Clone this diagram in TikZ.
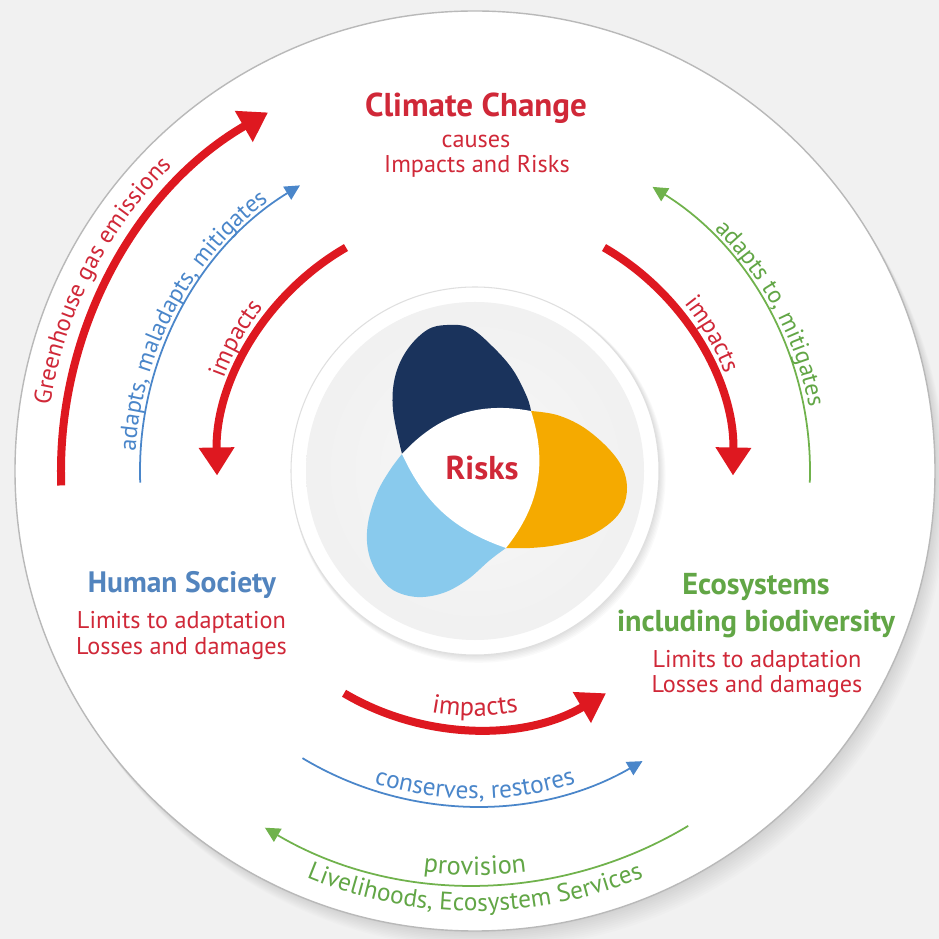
\documentclass[tikz,border=0pt]{standalone}
\usepackage{fontspec}
\setmainfont{PT Sans}
\usetikzlibrary{arrows.meta,decorations.text}

\definecolor{bgrey}{RGB}{241,241,241}
\definecolor{arrred}{RGB}{222,24,32}
\definecolor{txtred}{RGB}{208,40,56}
\definecolor{socblue}{RGB}{82,132,190}
\definecolor{arrblue}{RGB}{74,134,202}
\definecolor{ecogreen}{RGB}{98,166,70}
\definecolor{arrgreen}{RGB}{112,178,76}
\definecolor{petalnavy}{RGB}{26,51,92}
\definecolor{petalorange}{RGB}{245,170,0}
\definecolor{petalsky}{RGB}{137,202,237}

\pgfdeclareradialshading{dishshade}{\pgfpoint{0bp}{0bp}}{%
  rgb(0bp)=(0.97,0.97,0.97); rgb(28bp)=(0.94,0.94,0.94); rgb(44bp)=(0.89,0.89,0.89); rgb(50bp)=(0.84,0.84,0.84)}

\newcommand\arcfont[1]{\fontsize{#1}{#1}\selectfont}

\tikzset{
  bigarrow/.style={draw=arrred, line width=0.08cm, -{Triangle[length=0.28cm,width=0.34cm]}},
  thinarrow/.style={line width=0.5pt, -{Triangle[length=0.15cm,width=0.15cm]}},
  arclabel/.style={decorate, decoration={text along path, text align=center, text={#1}}},
  headred/.style={font=\bfseries\fontsize{9.4}{10}\selectfont, text=txtred, anchor=base, inner sep=0pt},
  subred/.style={font=\fontsize{6.9}{8}\selectfont, text=txtred, anchor=base, inner sep=0pt},
  headblue/.style={font=\bfseries\fontsize{8.4}{10}\selectfont, text=socblue, anchor=base, inner sep=0pt},
  headgreen/.style={font=\bfseries\fontsize{8.6}{10}\selectfont, text=ecogreen, anchor=base, inner sep=0pt},
}

\begin{document}
\begin{tikzpicture}

% Parameters
\def\rout{4.60}     % outer disk
\def\rring{1.84}    % white ring round the dish
\def\rdish{1.69}    % grey dish
\def\rbig{4.14}     % greenhouse gas / provision arcs
\def\rmid{3.35}     % thin arcs
\def\rin{2.58}      % impacts arcs

% Canvas
\useasboundingbox (-4.75,-4.68) rectangle (4.64,4.71);
\fill[bgrey] (-4.75,-4.68) rectangle (4.64,4.71);

% Soft shadow of the disk
\foreach \k in {1,...,10} {
    \fill[black, opacity=0.012] (0.012*\k,-0.018*\k) circle (\rout);
}
\fill[white, draw=gray!55, line width=0.4pt] (0,0) circle (\rout);

% Left side: human society -> climate change
\coordinate (ghg-s) at (182:\rbig);
\draw[bigarrow] (ghg-s) arc[start angle=182, end angle=120, radius=\rbig];
\path[arclabel={|\color{txtred}\arcfont{6.9}|Greenhouse gas emissions}] (183:4.30) arc[start angle=183, end angle=123, radius=4.30];

\coordinate (adapt-s) at (182:\rmid);
\draw[thinarrow, arrblue] (adapt-s) arc[start angle=182, end angle=121.5, radius=\rmid];
\path[arclabel={|\color{arrblue}\arcfont{6.8}|adapts, maladapts, mitigates}] (186:3.40) arc[start angle=186, end angle=118, radius=3.40];

\coordinate (imp1-s) at (120:\rin);
\draw[bigarrow] (imp1-s) arc[start angle=120, end angle=181, radius=\rin];
\path[arclabel={|\color{txtred}\arcfont{7}|impacts}] (171:2.68) arc[start angle=171, end angle=131, radius=2.68];

% Right side: climate change <-> ecosystems
\coordinate (imp2-s) at (60:\rin);
\draw[bigarrow] (imp2-s) arc[start angle=60, end angle=-1, radius=\rin];
\path[arclabel={|\color{txtred}\arcfont{7}|impacts}] (50:2.68) arc[start angle=50, end angle=10, radius=2.68];

\coordinate (eco-s) at (-2:\rmid);
\draw[thinarrow, arrgreen] (eco-s) arc[start angle=-2, end angle=58, radius=\rmid];
\path[arclabel={|\color{ecogreen}\arcfont{6.9}|adapts to, mitigates}] (60:3.40) arc[start angle=60, end angle=-4, radius=3.40];

% Bottom: human society <-> ecosystems
\coordinate (imp3-s) at (239.5:\rin);
\draw[bigarrow] (imp3-s) arc[start angle=239.5, end angle=300.5, radius=\rin];
\path[arclabel={|\color{txtred}\arcfont{7.5}|impacts}] (245:2.45) arc[start angle=245, end angle=295, radius=2.45];

\coordinate (cons-s) at (239:\rmid);
\draw[thinarrow, arrblue] (cons-s) arc[start angle=239, end angle=300, radius=\rmid];
\path[arclabel={|\color{arrblue}\arcfont{7.2}|conserves, restores}] (232:3.28) arc[start angle=232, end angle=308, radius=3.28];

\coordinate (prov-s) at (301:\rbig);
\draw[thinarrow, arrgreen] (prov-s) arc[start angle=301, end angle=239.5, radius=\rbig];
\path[arclabel={|\color{ecogreen}\arcfont{7.5}|provision}] (250:4.04) arc[start angle=250, end angle=290, radius=4.04];
\path[arclabel={|\color{ecogreen}\arcfont{7.2}|Livelihoods, Ecosystem Services}] (228:4.40) arc[start angle=228, end angle=312, radius=4.40];

% Dish in the middle
\foreach \k in {1,...,6} {
    \fill[black, opacity=0.02] (0.006*\k,-0.008*\k) circle (\rring+0.005*\k);
}
\fill[white, draw=gray!25, line width=0.3pt] (0,0) circle (\rring);
\shade[shading=dishshade] (0,0) circle (\rdish);

% Three petals, meeting at va, vb, vc
\coordinate (va) at (-0.73,0.17);
\coordinate (vb) at (0.56,0.60);
\coordinate (vc) at (0.31,-0.77);
\fill[petalnavy] plot[smooth, tension=0.6] coordinates {(-0.73,0.17) (-0.82,0.61) (-0.80,0.94) (-0.68,1.21) (-0.48,1.41) (-0.28,1.46) (-0.05,1.43) (0.18,1.24) (0.38,1.01) (0.52,0.74) (0.56,0.60)} -- cycle;
\fill[petalorange] plot[smooth, tension=0.6] coordinates {(0.56,0.60) (0.82,0.56) (1.08,0.44) (1.32,0.24) (1.47,0.04) (1.52,-0.16) (1.48,-0.36) (1.35,-0.52) (1.12,-0.66) (0.82,-0.74) (0.55,-0.77) (0.31,-0.77)} -- cycle;
\fill[petalsky] plot[smooth, tension=0.6] coordinates {(0.31,-0.77) (0.15,-0.89) (-0.08,-1.09) (-0.32,-1.22) (-0.58,-1.26) (-0.82,-1.19) (-0.98,-1.02) (-1.07,-0.79) (-1.07,-0.52) (-0.98,-0.22) (-0.85,0.01) (-0.73,0.17)} -- cycle;
\fill[white] (va) to[bend left=29] (vb) to[bend left=28] (vc) to[bend left=23] (va) -- cycle;
\node[headred] (risks) at (0.07,-0.09) {Risks};

% Texts
\node[headred] (climate) at (0.01,3.54) {Climate Change};
\node[subred] (causes) at (0.01,3.23) {causes};
\node[subred] (impacts-risks) at (0.02,2.98) {Impacts and Risks};

\node[headblue] (human) at (-2.93,-1.21) {Human Society};
\node[subred] (human-limits) at (-2.935,-1.57) {Limits to adaptation};
\node[subred] (human-losses) at (-2.935,-1.83) {Losses and damages};

\node[headgreen] (eco) at (2.81,-1.24) {Ecosystems};
\node[headgreen] (eco-bio) at (2.81,-1.61) {including biodiversity};
\node[subred] (eco-limits) at (2.82,-1.96) {Limits to adaptation};
\node[subred] (eco-losses) at (2.82,-2.21) {Losses and damages};

\end{tikzpicture}
\end{document}
